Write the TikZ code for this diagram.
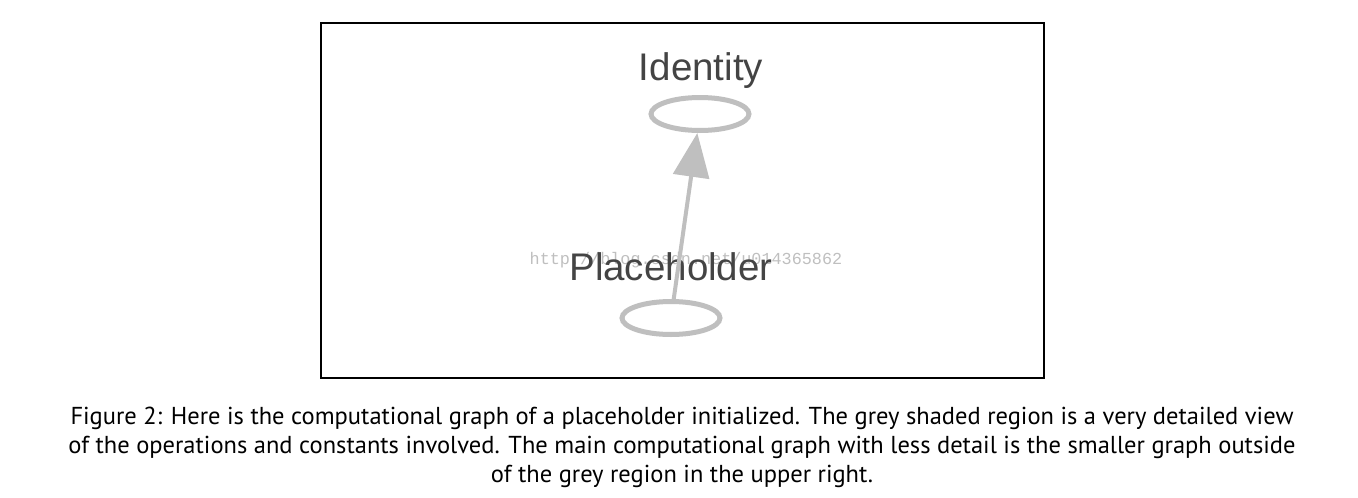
\documentclass[tikz,border=0pt]{standalone}
\usepackage{fontspec}
\setmainfont{Liberation Sans}
\newfontfamily\capfont{PT Sans}
\newfontfamily\markfont{Liberation Mono}
\usepackage{tikz}
\usetikzlibrary{arrows.meta,shapes.geometric}
\definecolor{opgray}{HTML}{BFBFBF}
\definecolor{labelgray}{HTML}{444444}
\tikzset{
    opnode/.style={draw=opgray,ellipse,line width=5pt,minimum width=98pt,minimum height=33pt,inner sep=0pt,fill=white},
    oplabel/.style={anchor=base,text=labelgray,font=\fontsize{38.5}{40}\selectfont}
}

\begin{document}
\begin{tikzpicture}[x=1pt,y=-1pt]
        \useasboundingbox (0,0) rectangle (1358,498);

        \draw[line width=1.5pt] (321,23) rectangle (1044,378);

        \node[text=gray!50,font=\markfont\fontsize{16.8}{17}\selectfont] (mark) at (686,260) {http://blog.csdn.net/u014365862};

        \node[opnode] (ident) at (700,114) {};
        \node[opnode] (phold) at (671,318) {};

        \node[oplabel] (identlabel) at (701,80) {Identity};
        \node[oplabel] (pholdlabel) at (671,280) {Placeholder};

        \draw[draw=opgray,line width=4pt,-{Triangle[length=44pt,width=36pt]}] (phold) -- (ident);

        \node[align=center,font=\capfont\fontsize{24.5}{29}\selectfont] (caption) at (682,447) {Figure 2: Here is the computational graph of a placeholder initialized. The grey shaded region is a very detailed view\\of the operations and constants involved. The main computational graph with less detail is the smaller graph outside\\of the grey region in the upper right.};
    \end{tikzpicture}
\end{document}
